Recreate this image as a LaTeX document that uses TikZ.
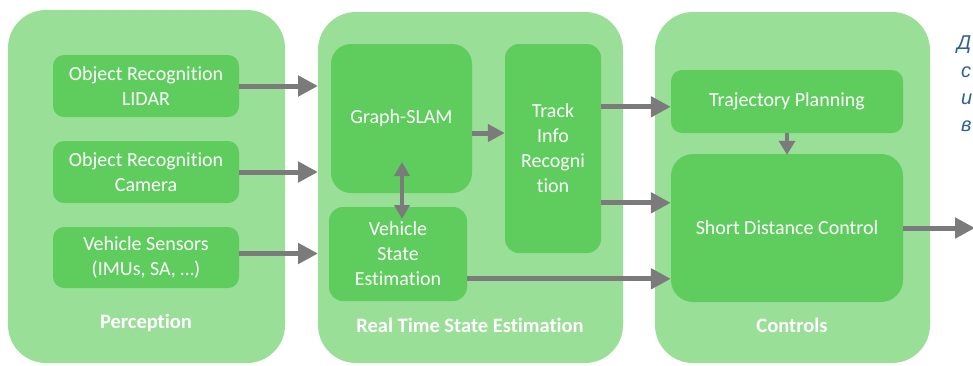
\documentclass[tikz,border=0pt]{standalone}
\usepackage{fontspec}
\setmainfont{Carlito}[Ligatures=NoCommon]
\newfontfamily\cyrfont{Liberation Sans}
\usetikzlibrary{arrows.meta,calc}
\definecolor{outerg}{HTML}{9ADF97}
\definecolor{innerg}{HTML}{5ECD5E}
\definecolor{arrg}{HTML}{7B7B7B}
\definecolor{cyrblue}{HTML}{2F6193}
\tikzset{
  outerbox/.style={fill=outerg, rounded corners=38pt, draw=none},
  innerbox/.style={fill=innerg, rounded corners=11pt, draw=none, text=white, align=center, font=\fontsize{20}{25}\selectfont, inner sep=0pt},
  grouplabel/.style={text=white, font=\bfseries\fontsize{20.5}{24}\selectfont},
  bigarrow/.style={draw=arrg, line width=5pt, -{Triangle[length=20pt,width=20pt]}},
  midarrow/.style={draw=arrg, line width=5pt, -{Triangle[length=17pt,width=17pt]}},
  smallarrow/.style={draw=arrg, line width=4pt, {Triangle[length=14pt,width=15pt]}-{Triangle[length=14pt,width=15pt]}},
  downarrow/.style={draw=arrg, line width=4pt, -{Triangle[length=14pt,width=16pt]}},
  cyrtext/.style={text=cyrblue, font=\cyrfont\itshape\fontsize{20}{24}\selectfont, anchor=west, inner sep=0pt}
}
\begin{document}
\begin{tikzpicture}[x=1pt,y=-1pt]
\clip (0,0) rectangle (973,365);
\fill[white] (0,0) rectangle (973,365);
% outer groups
\path[outerbox] (8,10) rectangle (285,363);
\path[outerbox] (318,12) rectangle (623,363);
\path[outerbox] (655,12) rectangle (930,363);
% perception
\node[innerbox, minimum width=186pt, minimum height=62pt] (lidar) at (146,86) {Object Recognition\\LIDAR};
\node[innerbox, minimum width=186pt, minimum height=62pt] (camera) at (146,172) {Object Recognition\\Camera};
\node[innerbox, minimum width=186pt, minimum height=61pt] (sensors) at (146,257.5) {Vehicle Sensors\\(IMUs, SA, \dots)};
\node[grouplabel] (plabel) at (146,323) {Perception};
% real time state estimation
\node[innerbox, rounded corners=20pt, minimum width=141pt, minimum height=149pt] (slam) at (401.5,118.5) {Graph-SLAM};
\node[innerbox, rounded corners=14pt, minimum width=138pt, minimum height=94pt] (vse) at (398,254) {Vehicle\\State\\Estimation};
\node[innerbox, rounded corners=14pt, minimum width=96pt, minimum height=209pt] (track) at (553,148.5) {Track\\Info\\Recogni\\tion};
\node[grouplabel] (rlabel) at (470,325) {Real Time State Estimation};
% controls
\node[innerbox, minimum width=232pt, minimum height=63pt] (tp) at (787,101.5) {Trajectory Planning};
\node[innerbox, rounded corners=22pt, minimum width=232pt, minimum height=148pt] (sdc) at (787,228) {Short Distance Control};
\node[grouplabel] (clabel) at (792,325) {Controls};
% arrows
\coordinate (rtl) at (318,86);
\draw[bigarrow] (lidar.east) -- (lidar.east -| rtl);
\draw[bigarrow] (camera.east) -- (camera.east -| rtl);
\draw[bigarrow] ($(sensors.east)+(0,-4)$) -- ($(sensors.east -| rtl)+(0,-4)$);
\draw[midarrow] (slam.east |- 0,133) -- (track.west |- 0,133);
\coordinate (dtop) at (402,162);
\coordinate (dbot) at (402,219);
\draw[smallarrow] (dtop) -- (dbot);
\draw[bigarrow] ($(track.north east)+(0,63)$) -- ($(track.north east -| tp.west)+(0,63)$);
\draw[bigarrow] ($(track.north east)+(0,159)$) -- ($(track.north east -| sdc.west)+(0,159)$);
\draw[bigarrow] ($(vse.north east)+(0,72)$) -- ($(vse.north east -| sdc.west)+(0,72)$);
\draw[downarrow] (tp.south) -- ($(sdc.north)+(0,1)$);
\coordinate (out) at (975,228);
\draw[bigarrow] (sdc.east) -- (out);
% cut-off side text
\node[cyrtext] (c1) at (957,45) {Д};
\node[cyrtext] (c2) at (961,72) {с};
\node[cyrtext] (c3) at (961,99) {и};
\node[cyrtext] (c4) at (961,126) {в};
\end{tikzpicture}
\end{document}
